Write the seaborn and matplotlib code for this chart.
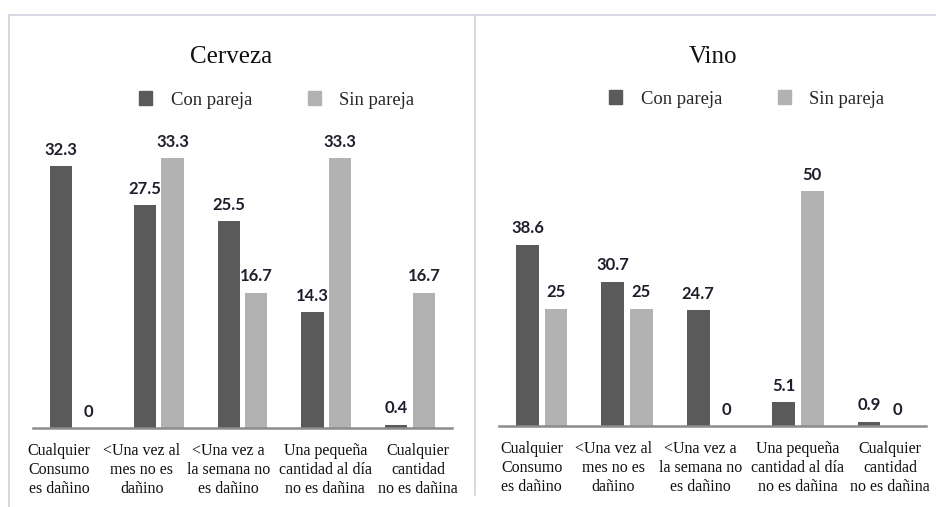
import matplotlib
matplotlib.use("Agg")
import matplotlib.pyplot as plt
import matplotlib.transforms as mtransforms
from matplotlib.lines import Line2D
import seaborn as sns
import pandas as pd

# data
categories = [
    "Cualquier\nConsumo\nes dañino",
    "<Una vez al\nmes no es\ndañino",
    "<Una vez a\nla semana no\nes dañino",
    "Una pequeña\ncantidad al día\nno es dañina",
    "Cualquier\ncantidad\nno es dañina",
]
groups = ["Con pareja", "Sin pareja"]
cerveza_con = [32.3, 27.5, 25.5, 14.3, 0.4]
cerveza_sin = [0, 33.3, 16.7, 33.3, 16.7]
vino_con = [38.6, 30.7, 24.7, 5.1, 0.9]
vino_sin = [25, 25, 0, 50, 0]

palette = {"Con pareja": "#5a5a5a", "Sin pareja": "#b2b2b2"}
serif = ["Liberation Serif", "DejaVu Serif"]

sns.set_theme(style="white")
plt.rcParams["font.family"] = serif

W, H = 936, 507
fig = plt.figure(figsize=(W / 100, H / 100), dpi=100)


def long_table(con, sin):
    return pd.DataFrame({
        "cat": categories * 2,
        "grupo": [groups[0]] * len(con) + [groups[1]] * len(sin),
        "valor": list(con) + list(sin),
    })


def draw_panel(rect, con, sin, ymax, title, title_xy, legend_xy, label_shift, width):
    ax = fig.add_axes(rect)
    df = long_table(con, sin)
    sns.barplot(data=df, x="cat", y="valor", hue="grupo", order=categories,
                hue_order=groups, palette=palette, width=width, gap=0.2,
                linewidth=0, saturation=1, ax=ax, legend=False)
    ax.set_xlim(-0.5, len(categories) - 0.5)
    ax.set_ylim(0, ymax)
    for cont, vals in zip(ax.containers, [con, sin]):
        ax.bar_label(cont, labels=[f"{v:g}" for v in vals], padding=6,
                     fontsize=12, fontweight="bold", family="Lato", color="#1e1e2c")
    for s in ["left", "right", "top"]:
        ax.spines[s].set_visible(False)
    ax.spines["bottom"].set_color("#8c8c8c")
    ax.spines["bottom"].set_linewidth(1.8)
    ax.set_yticks([])
    ax.set_xlabel("")
    ax.set_ylabel("")
    ax.tick_params(axis="x", length=0, pad=10.5)
    ax.set_xticks(range(len(categories)))
    ax.set_xticklabels(categories, fontsize=11.5, family=serif, color="#111111",
                       linespacing=1.26)
    for lab, dx in zip(ax.get_xticklabels(), label_shift):
        lab.set_transform(lab.get_transform() +
                          mtransforms.ScaledTranslation(dx / 100, 0, fig.dpi_scale_trans))

    fig.text(title_xy[0] / W, 1 - title_xy[1] / H, title, ha="center", va="center",
             fontsize=18, family=serif, color="#111111")
    handles = [plt.Rectangle((0, 0), 1, 1, color=palette[g]) for g in groups]
    fig.legend(handles, groups, loc="center left",
               bbox_to_anchor=(legend_xy[0] / W, 1 - legend_xy[1] / H),
               ncol=2, frameon=False, prop={"family": serif, "size": 13.4},
               handlelength=0.7, handleheight=0.7, handletextpad=1.0,
               columnspacing=3.0, borderaxespad=0, borderpad=0)
    return ax


draw_panel([33 / W, 79 / H, 419 / W, 324 / H], cerveza_con, cerveza_sin, 40,
           "Cerveza", (231, 57), (139, 100), [-16, -17, -14, -1, 8], 0.66)
draw_panel([499 / W, 81 / H, 427 / W, 282 / H], vino_con, vino_sin, 60,
           "Vino", (713, 57), (609, 99), [-10, -14, -12, 0, 7], 0.67)

# panel frames
frame = "#d0d2e0"
fig.add_artist(Line2D([9 / W, 9 / W], [0, 1 - 15 / H], color=frame, lw=1.2))
fig.add_artist(Line2D([9 / W, 1], [1 - 15 / H, 1 - 15 / H], color=frame, lw=1.2))
fig.add_artist(Line2D([475 / W, 475 / W], [12 / H, 1 - 15 / H], color=frame, lw=1.2))

fig.savefig("out.png", dpi=100)
